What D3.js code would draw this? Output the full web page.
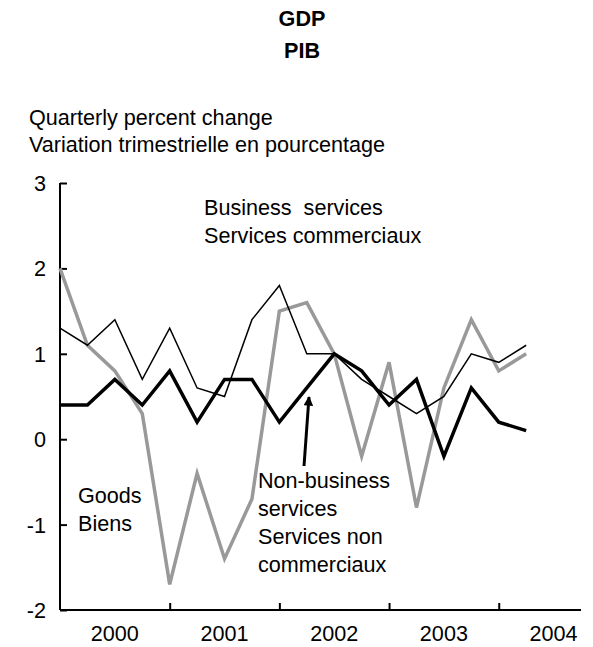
<!DOCTYPE html>
<html>
<head>
    <title>GDP / PIB</title>
    <script src="https://d3js.org/d3.v7.min.js"></script>
    <style>
        body { margin: 0; background: #fff; }
        svg text { font-family: "Liberation Sans", Arial, sans-serif; font-size: 21.6px; fill: #000; }
    </style>
</head>
<body>
    <svg width="593" height="647"></svg>

    <script>
        // quarters 2000Q1 .. 2004Q2 (index 0..17), axis runs to index 19
        var years = ["2000", "2001", "2002", "2003", "2004"];
        var goods = [2.0, 1.1, 0.8, 0.3, -1.7, -0.4, -1.4, -0.7, 1.5, 1.6, 1.0, -0.2, 0.9, -0.8, 0.6, 1.4, 0.8, 1.0];
        var business = [1.3, 1.1, 1.4, 0.7, 1.3, 0.6, 0.5, 1.4, 1.8, 1.0, 1.0, 0.7, 0.5, 0.3, 0.5, 1.0, 0.9, 1.1];
        var nonBusiness = [0.4, 0.4, 0.7, 0.4, 0.8, 0.2, 0.7, 0.7, 0.2, 0.6, 1.0, 0.8, 0.4, 0.7, -0.2, 0.6, 0.2, 0.1];
        var yTicks = [-2, -1, 0, 1, 2, 3];

        var svg = d3.select("svg");

        var x = d3.scaleLinear().domain([0, 19]).range([60, 581]);
        var y = d3.scaleLinear().domain([-2, 3]).range([610, 183]);

        // titles
        svg.append("text").attr("x", 302).attr("y", 26).attr("text-anchor", "middle")
            .style("font-weight", "bold").text("GDP");
        svg.append("text").attr("x", 302).attr("y", 58).attr("text-anchor", "middle")
            .style("font-weight", "bold").text("PIB");
        svg.append("text").attr("x", 29).attr("y", 125).text("Quarterly percent change");
        svg.append("text").attr("x", 29).attr("y", 152).text("Variation trimestrielle en pourcentage");

        // y axis
        var yAxis = svg.append("g").attr("transform", "translate(60,0)")
            .call(d3.axisRight(y).tickValues(yTicks).tickSize(7).tickFormat(""));
        yAxis.select(".domain").remove();
        yAxis.selectAll("line").attr("stroke", "#000").attr("stroke-width", 2);
        svg.append("line").attr("x1", 60).attr("x2", 60).attr("y1", y(3)).attr("y2", y(-2))
            .attr("stroke", "#000").attr("stroke-width", 2);
        svg.selectAll(".ylab").data(yTicks).enter().append("text")
            .attr("class", "ylab")
            .attr("x", 46).attr("y", function (d) { return y(d) + 8; })
            .attr("text-anchor", "end")
            .text(function (d) { return d; });

        // x axis
        var xAxis = svg.append("g").attr("transform", "translate(0," + y(-2) + ")")
            .call(d3.axisTop(x).tickValues([4, 8, 12, 16]).tickSize(7).tickFormat(""));
        xAxis.select(".domain").remove();
        xAxis.selectAll("line").attr("stroke", "#000").attr("stroke-width", 2);
        svg.append("line").attr("x1", x(0)).attr("x2", x(19)).attr("y1", y(-2)).attr("y2", y(-2))
            .attr("stroke", "#000").attr("stroke-width", 2);
        svg.selectAll(".xlab").data(years).enter().append("text")
            .attr("class", "xlab")
            .attr("x", function (d, i) { return x(i * 4 + 2); })
            .attr("y", 641)
            .attr("text-anchor", "middle")
            .text(function (d) { return d; });

        var line = d3.line()
            .x(function (d, i) { return x(i); })
            .y(function (d) { return y(d); });

        svg.append("path").datum(goods).attr("d", line)
            .attr("fill", "none").attr("stroke", "#999").attr("stroke-width", 3.5);
        svg.append("path").datum(business).attr("d", line)
            .attr("fill", "none").attr("stroke", "#000").attr("stroke-width", 1.5);
        svg.append("path").datum(nonBusiness).attr("d", line)
            .attr("fill", "none").attr("stroke", "#000").attr("stroke-width", 3.5);

        // labels
        function label(lines, lx, ly) {
            lines.forEach(function (t, i) {
                svg.append("text").attr("x", lx).attr("y", ly + i * 28).text(t);
            });
        }
        label(["Business\u00a0 services", "Services commerciaux"], 204, 215);
        label(["Goods", "Biens"], 78, 503);
        label(["Non-business", "services", "Services non", "commerciaux"], 258, 488);

        // arrow to non-business line
        svg.append("defs").append("marker")
            .attr("id", "head").attr("viewBox", "0 0 10 10")
            .attr("refX", 9).attr("refY", 5)
            .attr("markerWidth", 3.8).attr("markerHeight", 3.2)
            .attr("orient", "auto")
            .append("path").attr("d", "M0,0L10,5L0,10z").attr("fill", "#000");
        svg.append("line")
            .attr("x1", 304).attr("y1", 466).attr("x2", 309).attr("y2", 397)
            .attr("stroke", "#000").attr("stroke-width", 3)
            .attr("marker-end", "url(#head)");
    </script>
</body>
</html>
